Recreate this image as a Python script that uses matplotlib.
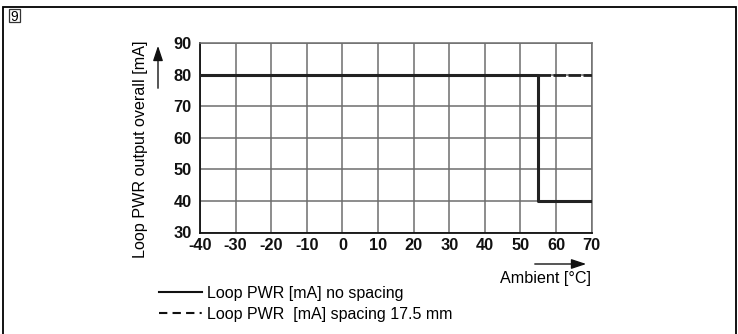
import matplotlib
matplotlib.use("Agg")
import matplotlib.pyplot as plt
from matplotlib.lines import Line2D
from matplotlib.patches import Rectangle, FancyArrowPatch

plt.rcParams['font.family'] = ['Liberation Sans', 'DejaVu Sans']
plt.rcParams['axes.unicode_minus'] = False

# Data
x_ticks = [-40, -30, -20, -10, 0, 10, 20, 30, 40, 50, 60, 70]
y_ticks = [30, 40, 50, 60, 70, 80, 90]
nospacing_x = [-40, 55, 55, 70]
nospacing_y = [80, 80, 40, 40]
spacing_x = [55, 70]
spacing_y = [80, 80]
label_nospacing = "Loop PWR [mA] no spacing"
label_spacing = "Loop PWR  [mA] spacing 17.5 mm"
ylabel = "Loop PWR output overall [mA]"
xlabel = "Ambient [°C]"
fig_no = "9"

W, H = 738, 334
fig = plt.figure(figsize=(W / 100, H / 100), dpi=100)

def fx(px):
    return px / W

def fy(py):
    return 1 - py / H

ax = fig.add_axes([fx(200), fy(232.5), fx(591.7) - fx(200), fy(43) - fy(232.5)])
ax.set_xlim(-40, 70)
ax.set_ylim(30, 90)
ax.set_xticks(x_ticks)
ax.set_yticks(y_ticks)
ax.grid(True, color='#6e6e6e', lw=1.1)
ax.set_axisbelow(True)
for s in ['top', 'right']:
    ax.spines[s].set_color('#6e6e6e')
    ax.spines[s].set_linewidth(1.1)
for s in ['left', 'bottom']:
    ax.spines[s].set_color('#111111')
    ax.spines[s].set_linewidth(1.3)
ax.tick_params(length=0, labelsize=11.8, colors='#111111')
ax.tick_params(axis='y', pad=6)
ax.tick_params(axis='x', pad=4)
for lab in ax.get_xticklabels() + ax.get_yticklabels():
    lab.set_fontweight('bold')

ax.plot(spacing_x, spacing_y, color='#222222', lw=2.0, linestyle=(0, (4.5, 0.9)), zorder=3)
ax.plot(nospacing_x, nospacing_y, color='#222222', lw=2.2, zorder=4)

# legend with proxies
h1 = Line2D([], [], color='#111111', lw=1.5)
h2 = Line2D([], [], color='#111111', lw=1.5, linestyle=(0, (4, 2.5, 4, 2.5, 4, 2.5, 1, 2)))
fig.legend([h1, h2], [label_nospacing, label_spacing], loc='upper left',
           bbox_to_anchor=(fx(146), fy(273)), frameon=False, fontsize=11.5,
           handlelength=2.7, handletextpad=0.35, labelspacing=0.38, borderpad=0.3)

# y label with arrow
fig.text(fx(140), fy(149), ylabel, rotation=90, ha='center', va='center', fontsize=11.6)
fig.add_artist(FancyArrowPatch((fx(158), fy(91)), (fx(158), fy(43)),
               transform=fig.transFigure, arrowstyle='-|>,head_length=0.9,head_width=0.3',
               mutation_scale=10, color='#111111', lw=1.0))
# x label with arrow
fig.text(fx(545.5), fy(278.5), xlabel, ha='center', va='center', fontsize=11.6)
fig.add_artist(FancyArrowPatch((fx(532), fy(264)), (fx(589), fy(264)),
               transform=fig.transFigure, arrowstyle='-|>,head_length=0.9,head_width=0.3',
               mutation_scale=10, color='#111111', lw=1.0))

# outer border
fig.add_artist(Rectangle((fx(3), fy(340)), fx(735.5) - fx(3), fy(7) - fy(340),
                         transform=fig.transFigure, fill=False, ec='black', lw=1.3))
# figure number box
fig.add_artist(Rectangle((fx(8.5), fy(21.5)), fx(19.5) - fx(8.5), fy(9) - fy(21.5),
                         transform=fig.transFigure, fill=False, ec='#333333', lw=0.9))
fig.text(fx(14), fy(15.5), fig_no, ha='center', va='center_baseline', fontsize=10)

fig.savefig('out.png', dpi=100)
